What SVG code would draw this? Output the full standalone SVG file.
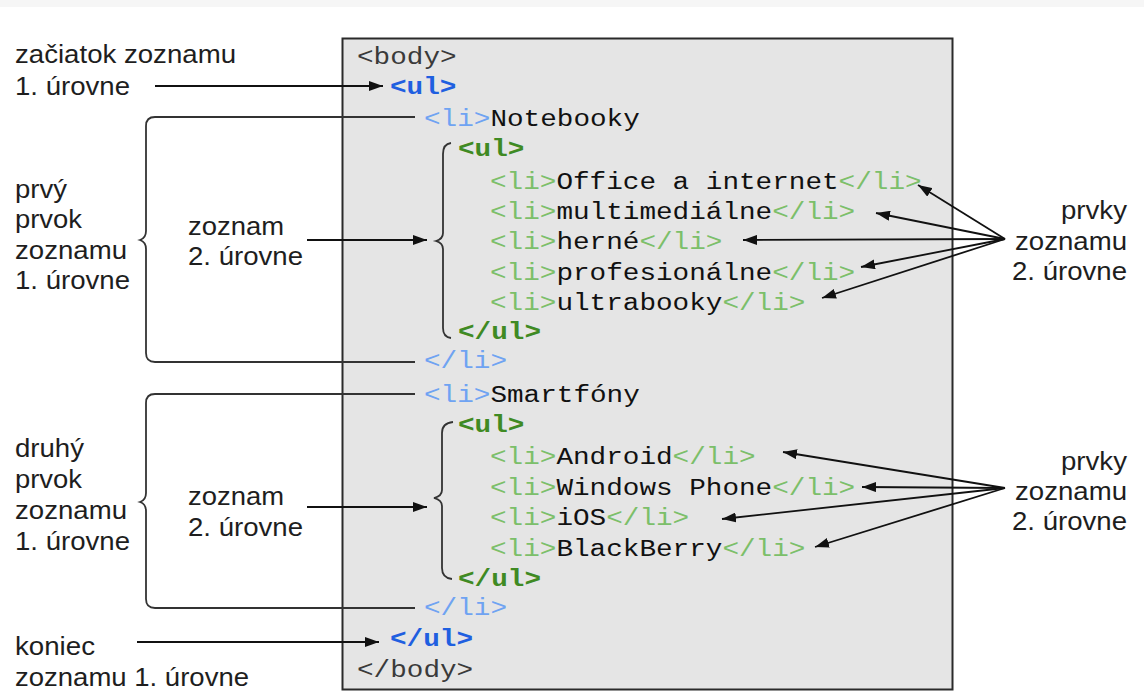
<svg xmlns="http://www.w3.org/2000/svg" width="1144" height="693" viewBox="0 0 1144 693">
<style>
.lbl{font-family:"Liberation Sans",Arial,sans-serif;font-size:25px;fill:#1e1e1e}
.code{font-family:"Liberation Mono","Courier New",monospace;font-size:23px;fill:#111}
.tag{fill:#3a3a3a}
.ulb{fill:#1f5fe0;font-weight:bold}
.lib{fill:#6fa3f2}
.ulg{fill:#3f8a23;font-weight:bold}
.lig{fill:#7cbf6a}
.conn{stroke:#111;stroke-width:1.8;fill:none}
.brace{stroke:#333;stroke-width:1.8;fill:none}
</style>
<defs>
<marker id="ah" markerUnits="userSpaceOnUse" markerWidth="14" markerHeight="10" refX="14" refY="5" orient="auto">
<path d="M0,0 L14,5 L0,10 z" fill="#111"/>
</marker>
</defs>
<rect x="0" y="0" width="1144" height="693" fill="#ffffff"/>
<rect x="0" y="0" width="1144" height="7" fill="#f6f6f6"/>
<g id="codebox">
<rect x="342.5" y="38.5" width="610" height="651" fill="#e5e5e5" stroke="#2a2a2a" stroke-width="2"/>
<text class="code" x="357" y="64" textLength="99.6" lengthAdjust="spacingAndGlyphs"><tspan class="tag">&lt;body&gt;</tspan></text>
<text class="code" x="390" y="94" textLength="66.4" lengthAdjust="spacingAndGlyphs"><tspan class="ulb">&lt;ul&gt;</tspan></text>
<text class="code" x="424" y="126" textLength="215.8" lengthAdjust="spacingAndGlyphs"><tspan class="lib">&lt;li&gt;</tspan>Notebooky</text>
<text class="code" x="458" y="156" textLength="66.4" lengthAdjust="spacingAndGlyphs"><tspan class="ulg">&lt;ul&gt;</tspan></text>
<text class="code" x="490" y="189" textLength="431.6" lengthAdjust="spacingAndGlyphs"><tspan class="lig">&lt;li&gt;</tspan>Office a internet<tspan class="lig">&lt;/li&gt;</tspan></text>
<text class="code" x="490" y="219" textLength="365.2" lengthAdjust="spacingAndGlyphs"><tspan class="lig">&lt;li&gt;</tspan>multimediálne<tspan class="lig">&lt;/li&gt;</tspan></text>
<text class="code" x="490" y="249" textLength="232.4" lengthAdjust="spacingAndGlyphs"><tspan class="lig">&lt;li&gt;</tspan>herné<tspan class="lig">&lt;/li&gt;</tspan></text>
<text class="code" x="490" y="280" textLength="365.2" lengthAdjust="spacingAndGlyphs"><tspan class="lig">&lt;li&gt;</tspan>profesionálne<tspan class="lig">&lt;/li&gt;</tspan></text>
<text class="code" x="490" y="310" textLength="315.4" lengthAdjust="spacingAndGlyphs"><tspan class="lig">&lt;li&gt;</tspan>ultrabooky<tspan class="lig">&lt;/li&gt;</tspan></text>
<text class="code" x="458" y="339" textLength="83" lengthAdjust="spacingAndGlyphs"><tspan class="ulg">&lt;/ul&gt;</tspan></text>
<text class="code" x="424" y="368" textLength="83" lengthAdjust="spacingAndGlyphs"><tspan class="lib">&lt;/li&gt;</tspan></text>
<text class="code" x="424" y="402" textLength="215.8" lengthAdjust="spacingAndGlyphs"><tspan class="lib">&lt;li&gt;</tspan>Smartfóny</text>
<text class="code" x="458" y="432" textLength="66.4" lengthAdjust="spacingAndGlyphs"><tspan class="ulg">&lt;ul&gt;</tspan></text>
<text class="code" x="490" y="464" textLength="265.6" lengthAdjust="spacingAndGlyphs"><tspan class="lig">&lt;li&gt;</tspan>Android<tspan class="lig">&lt;/li&gt;</tspan></text>
<text class="code" x="490" y="495" textLength="365.2" lengthAdjust="spacingAndGlyphs"><tspan class="lig">&lt;li&gt;</tspan>Windows Phone<tspan class="lig">&lt;/li&gt;</tspan></text>
<text class="code" x="490" y="525" textLength="199.2" lengthAdjust="spacingAndGlyphs"><tspan class="lig">&lt;li&gt;</tspan>iOS<tspan class="lig">&lt;/li&gt;</tspan></text>
<text class="code" x="490" y="556" textLength="315.4" lengthAdjust="spacingAndGlyphs"><tspan class="lig">&lt;li&gt;</tspan>BlackBerry<tspan class="lig">&lt;/li&gt;</tspan></text>
<text class="code" x="458" y="586" textLength="83" lengthAdjust="spacingAndGlyphs"><tspan class="ulg">&lt;/ul&gt;</tspan></text>
<text class="code" x="424" y="615" textLength="83" lengthAdjust="spacingAndGlyphs"><tspan class="lib">&lt;/li&gt;</tspan></text>
<text class="code" x="390" y="646" textLength="83" lengthAdjust="spacingAndGlyphs"><tspan class="ulb">&lt;/ul&gt;</tspan></text>
<text class="code" x="357" y="677" textLength="116.2" lengthAdjust="spacingAndGlyphs"><tspan class="tag">&lt;/body&gt;</tspan></text>
</g>
<g id="label-zaciatok">
<text class="lbl" x="15" y="63" textLength="221" lengthAdjust="spacingAndGlyphs">začiatok zoznamu</text>
<text class="lbl" x="15" y="95" textLength="115" lengthAdjust="spacingAndGlyphs">1. úrovne</text>
</g>
<g id="label-prvy">
<text class="lbl" x="15" y="198" textLength="52" lengthAdjust="spacingAndGlyphs">prvý</text>
<text class="lbl" x="15" y="228" textLength="67" lengthAdjust="spacingAndGlyphs">prvok</text>
<text class="lbl" x="15" y="259" textLength="112" lengthAdjust="spacingAndGlyphs">zoznamu</text>
<text class="lbl" x="15" y="289" textLength="115" lengthAdjust="spacingAndGlyphs">1. úrovne</text>
</g>
<g id="label-druhy">
<text class="lbl" x="15" y="457" textLength="69" lengthAdjust="spacingAndGlyphs">druhý</text>
<text class="lbl" x="15" y="488" textLength="67" lengthAdjust="spacingAndGlyphs">prvok</text>
<text class="lbl" x="15" y="519" textLength="112" lengthAdjust="spacingAndGlyphs">zoznamu</text>
<text class="lbl" x="15" y="550" textLength="115" lengthAdjust="spacingAndGlyphs">1. úrovne</text>
</g>
<g id="label-zoznam1">
<text class="lbl" x="188" y="235" textLength="96" lengthAdjust="spacingAndGlyphs">zoznam</text>
<text class="lbl" x="188" y="265" textLength="115" lengthAdjust="spacingAndGlyphs">2. úrovne</text>
</g>
<g id="label-zoznam2">
<text class="lbl" x="188" y="505" textLength="96" lengthAdjust="spacingAndGlyphs">zoznam</text>
<text class="lbl" x="188" y="536" textLength="115" lengthAdjust="spacingAndGlyphs">2. úrovne</text>
</g>
<g id="label-koniec">
<text class="lbl" x="15" y="655" textLength="80" lengthAdjust="spacingAndGlyphs">koniec</text>
<text class="lbl" x="15" y="686" textLength="234" lengthAdjust="spacingAndGlyphs">zoznamu 1. úrovne</text>
</g>
<g id="label-prvky1">
<text class="lbl" x="1061" y="219" textLength="66" lengthAdjust="spacingAndGlyphs">prvky</text>
<text class="lbl" x="1015" y="250" textLength="112" lengthAdjust="spacingAndGlyphs">zoznamu</text>
<text class="lbl" x="1012" y="280" textLength="115" lengthAdjust="spacingAndGlyphs">2. úrovne</text>
</g>
<g id="label-prvky2">
<text class="lbl" x="1061" y="470" textLength="66" lengthAdjust="spacingAndGlyphs">prvky</text>
<text class="lbl" x="1015" y="500" textLength="112" lengthAdjust="spacingAndGlyphs">zoznamu</text>
<text class="lbl" x="1012" y="530" textLength="115" lengthAdjust="spacingAndGlyphs">2. úrovne</text>
</g>
<g id="connectors">
<path class="brace" d="M415,117 H155 Q146,117 146,126 V231 Q146,238 140,240 Q146,242 146,249 V353 Q146,362 155,362 H415"/>
<path class="brace" d="M415,394 H155 Q146,394 146,403 V493 Q146,500 140,502 Q146,504 146,511 V599 Q146,608 155,608 H415"/>
<path class="brace" d="M451,143 Q443,144 443,154 V233 Q443,239 436,241 Q443,243 443,249 V328 Q443,337 451,338"/>
<path class="brace" d="M453,422 Q442,423 442,433 V490 Q442,496 434,498 Q442,500 442,506 V568 Q442,578 452,579"/>
<line class="conn" x1="155" y1="86" x2="383" y2="86" marker-end="url(#ah)"/>
<line class="conn" x1="137" y1="642" x2="379" y2="642" marker-end="url(#ah)"/>
<line class="conn" x1="307" y1="240" x2="427" y2="240" marker-end="url(#ah)"/>
<line class="conn" x1="307" y1="507" x2="427" y2="507" marker-end="url(#ah)"/>
<line class="conn" x1="1005" y1="239" x2="918" y2="185" marker-end="url(#ah)"/>
<line class="conn" x1="1005" y1="239" x2="876" y2="213" marker-end="url(#ah)"/>
<line class="conn" x1="1005" y1="239" x2="743" y2="240" marker-end="url(#ah)"/>
<line class="conn" x1="1005" y1="239" x2="861" y2="267" marker-end="url(#ah)"/>
<line class="conn" x1="1005" y1="239" x2="822" y2="298" marker-end="url(#ah)"/>
<line class="conn" x1="1005" y1="488" x2="783" y2="452" marker-end="url(#ah)"/>
<line class="conn" x1="1005" y1="488" x2="862" y2="487" marker-end="url(#ah)"/>
<line class="conn" x1="1005" y1="488" x2="722" y2="519" marker-end="url(#ah)"/>
<line class="conn" x1="1005" y1="488" x2="815" y2="547" marker-end="url(#ah)"/>
</g>
</svg>
